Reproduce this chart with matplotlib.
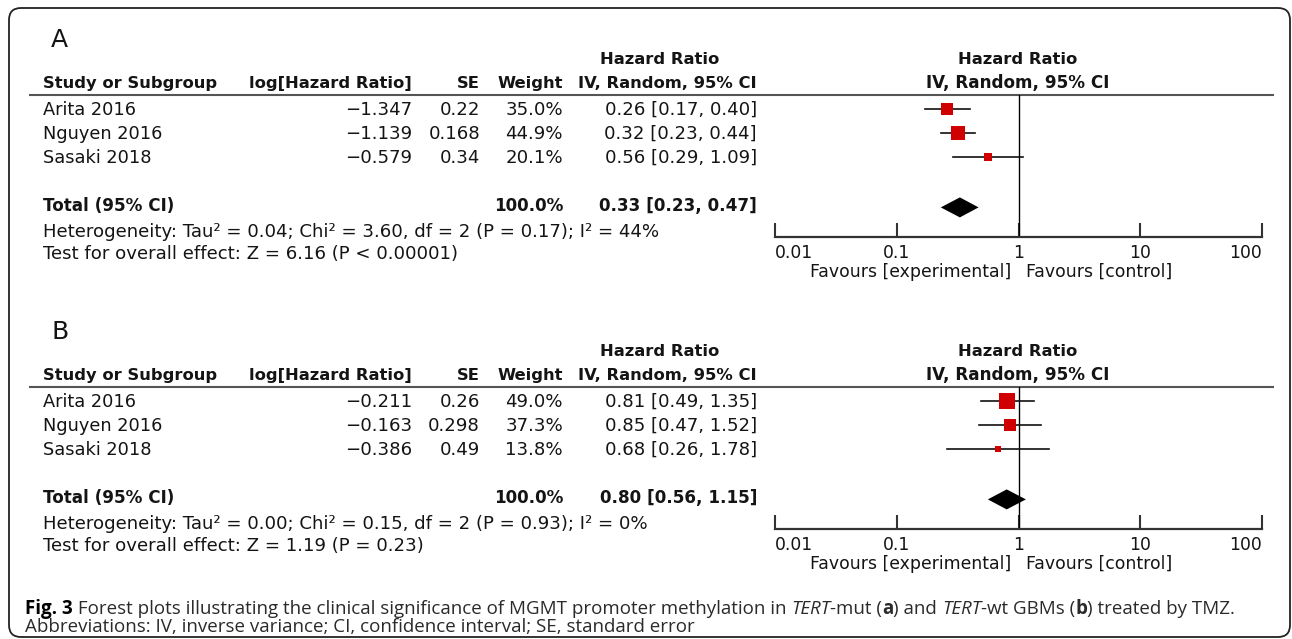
import matplotlib
matplotlib.use("Agg")
import matplotlib.pyplot as plt
from matplotlib.patches import FancyBboxPatch

# ---------------- data ----------------
studies = ["Arita 2016", "Nguyen 2016", "Sasaki 2018"]

log_hr_a = [-1.347, -1.139, -0.579]
se_a = [0.22, 0.168, 0.34]
weight_a = [35.0, 44.9, 20.1]
hr_a = [0.26, 0.32, 0.56]
lo_a = [0.17, 0.23, 0.29]
hi_a = [0.40, 0.44, 1.09]
total_weight_a = 100.0
total_a = [0.33, 0.23, 0.47]
het_a = "Heterogeneity: Tau² = 0.04; Chi² = 3.60, df = 2 (P = 0.17); I² = 44%"
overall_a = "Test for overall effect: Z = 6.16 (P < 0.00001)"

log_hr_b = [-0.211, -0.163, -0.386]
se_b = [0.26, 0.298, 0.49]
weight_b = [49.0, 37.3, 13.8]
hr_b = [0.81, 0.85, 0.68]
lo_b = [0.49, 0.47, 0.26]
hi_b = [1.35, 1.52, 1.78]
total_weight_b = 100.0
total_b = [0.80, 0.56, 1.15]
het_b = "Heterogeneity: Tau² = 0.00; Chi² = 0.15, df = 2 (P = 0.93); I² = 0%"
overall_b = "Test for overall effect: Z = 1.19 (P = 0.23)"

tick_values = [0.01, 0.1, 1, 10, 100]
tick_labels = ["0.01", "0.1", "1", "10", "100"]
fav_left = "Favours [experimental]"
fav_right = "Favours [control]"

col_headers = ["Study or Subgroup", "log[Hazard Ratio]", "SE", "Weight", "IV, Random, 95% CI"]
effect_header = "Hazard Ratio"

caption_runs = [
    ("Fig. 3", "bold"), (" Forest plots illustrating the clinical significance of MGMT promoter methylation in ", "normal"),
    ("TERT", "italic"), ("-mut (", "normal"), ("a", "bold"), (") and ", "normal"),
    ("TERT", "italic"), ("-wt GBMs (", "normal"), ("b", "bold"), (") treated by TMZ.", "normal"),
]
caption_line2 = "Abbreviations: IV, inverse variance; CI, confidence interval; SE, standard error"

# ---------------- figure ----------------
W, H = 1292, 639
fig = plt.figure(figsize=(W / 100, H / 100), dpi=100)
canvas = fig.add_axes([0, 0, 1, 1])
canvas.set_xlim(0, W)
canvas.set_ylim(H, 0)
canvas.axis("off")

TXT = "#141414"
RED = "#d00000"
FS = 13.1      # table body font size
FSB = 11.8     # bold header size
FSF = 12.4     # forest axis text size
FAM = "DejaVu Sans"

border = FancyBboxPatch((9, 8), 1281, 629, boxstyle="round,pad=0,rounding_size=12",
                        fill=False, ec="#222222", lw=1.3)
canvas.add_patch(border)


def minus(v, fmt):
    s = format(v, fmt)
    return s.replace("-", "\u2212")


def draw_panel(dy, label, log_hr, se, weight, hr, lo, hi, total_w, total, het, overall):
    t = lambda x, y, s, **kw: canvas.text(x, y + dy, s, color=TXT, family=FAM, va="baseline", **kw)
    t(51, 47, label, fontsize=18)
    # headers
    t(660, 64, effect_header, fontsize=FSB, weight="bold", ha="center")
    t(1018, 64, effect_header, fontsize=FSB, weight="bold", ha="center")
    t(43, 88, col_headers[0], fontsize=FSB, weight="bold", ha="left")
    t(412, 88, col_headers[1], fontsize=FSB, weight="bold", ha="right")
    t(480, 88, col_headers[2], fontsize=FSB, weight="bold", ha="right")
    t(563, 88, col_headers[3], fontsize=FSB, weight="bold", ha="right")
    t(757, 88, col_headers[4], fontsize=FSB, weight="bold", ha="right")
    t(1018, 88, col_headers[4], fontsize=12.1, weight="bold", ha="center")
    canvas.plot([29, 1274], [95 + dy, 95 + dy], color="#555555", lw=1.5, solid_capstyle="butt")
    # rows
    for i, name in enumerate(studies):
        yb = 115 + 24 * i
        t(43, yb, name, fontsize=FS - 0.3, ha="left")
        t(412, yb, minus(log_hr[i], ".3f"), fontsize=FS, ha="right")
        t(480, yb, format(se[i], "g"), fontsize=FS, ha="right")
        t(563, yb, f"{weight[i]:.1f}%", fontsize=FS, ha="right")
        t(757, yb, f"{hr[i]:.2f} [{lo[i]:.2f}, {hi[i]:.2f}]", fontsize=FS, ha="right")
    t(43, 211, "Total (95% CI)", fontsize=FSB + 0.3, weight="bold", ha="left")
    t(563, 211, f"{total_w:.1f}%", fontsize=FSB + 0.3, weight="bold", ha="right")
    t(757, 211, f"{total[0]:.2f} [{total[1]:.2f}, {total[2]:.2f}]", fontsize=FSB + 0.3,
      weight="bold", ha="right")
    t(43, 237, het, fontsize=FS, ha="left")
    t(43, 259, overall, fontsize=FS, ha="left")
    t(1011, 277, fav_left, fontsize=FSF, ha="right")
    t(1026, 277, fav_right, fontsize=FSF, ha="left")

    # forest axes
    x0, x1 = 775, 1262
    ytop, ybot = 95 + dy, 237 + dy
    ax = fig.add_axes([x0 / W, 1 - ybot / H, (x1 - x0) / W, (ybot - ytop) / H])
    ax.set_facecolor("none")
    ax.set_xscale("log")
    ax.set_xlim(0.01, 100)
    pitch = 24.0
    ax.set_ylim((ybot - dy - 109) / pitch, (ytop - dy - 109) / pitch)
    for sp in ["top", "left", "right"]:
        ax.spines[sp].set_visible(False)
    ax.spines["bottom"].set_linewidth(1.6)
    ax.spines["bottom"].set_color("#333333")
    ax.set_yticks([])
    ax.set_xticks(tick_values)
    ax.set_xticklabels(tick_labels)
    ax.minorticks_off()
    ax.tick_params(axis="x", direction="in", length=10, width=1.5, color="#333333",
                   pad=5, labelsize=FSF, labelcolor=TXT)
    labs = ax.get_xticklabels()
    labs[0].set_ha("left")
    labs[-1].set_ha("right")
    ax.axvline(1, color="black", lw=1.0)
    for i in range(len(studies)):
        ax.plot([lo[i], hi[i]], [i, i], color="#111111", lw=1.2, zorder=2)
        side_px = 3 + 0.25 * weight[i]
        ax.plot([hr[i]], [i], marker="s", ms=side_px * 0.72, mfc=RED, mec=RED, mew=0,
                ls="none", zorder=3, clip_on=False)
    rt = len(studies) + 1
    hh = 10 / pitch
    ax.fill([total[1], total[0], total[2], total[0]], [rt + 0.1, rt + 0.1 - hh, rt + 0.1, rt + 0.1 + hh],
            color="black", lw=0, zorder=3)


draw_panel(0, "A", log_hr_a, se_a, weight_a, hr_a, lo_a, hi_a, total_weight_a, total_a, het_a, overall_a)
draw_panel(292, "B", log_hr_b, se_b, weight_b, hr_b, lo_b, hi_b, total_weight_b, total_b, het_b, overall_b)

# ---------------- caption ----------------
renderer = fig.canvas.get_renderer()
CAP_FAM = ["Open Sans", "Lato", "DejaVu Sans"]


def style_kw(style, size):
    kw = dict(family=CAP_FAM, fontsize=size)
    if style == "bold":
        kw["weight"] = "bold"
    elif style == "italic":
        kw["style"] = "italic"
    return kw


def run_width(s, kw):
    a = canvas.text(0, 0, "|" + s + "|", **kw)
    b = canvas.text(0, 0, "||", **kw)
    w = a.get_window_extent(renderer).width - b.get_window_extent(renderer).width
    a.remove()
    b.remove()
    return w


base = 10.0
total_w = sum(run_width(s, style_kw(st, base)) for s, st in caption_runs)
cap_size = base * 1208 / total_w
x = 25
for s, st in caption_runs:
    kw = style_kw(st, cap_size)
    col = "black" if s == "Fig. 3" else "#2a2a2a"
    canvas.text(x, 614, s, va="baseline", ha="left", color=col, **kw)
    x += run_width(s, kw)
canvas.text(25, 632, caption_line2, va="baseline", ha="left", color="#2a2a2a",
            **style_kw("normal", cap_size))

fig.savefig("out.png", dpi=100)
